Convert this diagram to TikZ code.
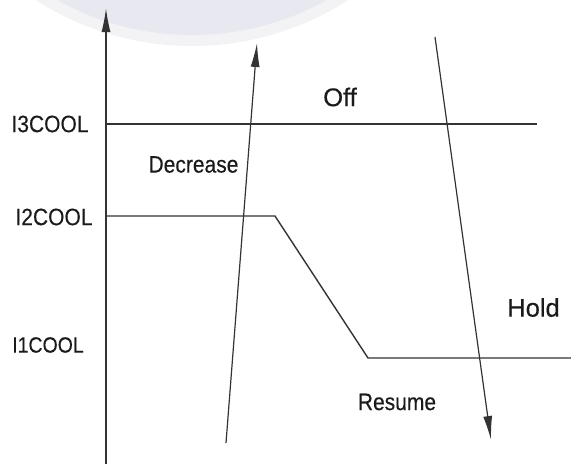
\documentclass[tikz,border=0pt]{standalone}
\usepackage{fontspec}
\setmainfont[FakeBold=0.3]{Liberation Sans}
\usetikzlibrary{arrows.meta}
\definecolor{wmout}{HTML}{F3F3F5}
\definecolor{wmin}{HTML}{E8E8F0}
\definecolor{ink}{HTML}{333333}
\definecolor{txt}{HTML}{1A1A1A}
\newcommand\tallt[1]{\scalebox{1}[1.13]{#1}}
\begin{document}
\begin{tikzpicture}[x=1pt,y=-1pt,
  line/.style={draw=ink, line width=1.4pt},
  lbl/.style={text=txt, inner sep=0pt, font=\fontsize{21}{24}\selectfont},
  big/.style={lbl, font=\fontsize{25.5}{30}\selectfont},
  tip/.style={-{Latex[length=24pt,width=9pt]}}]
\useasboundingbox (0,0) rectangle (571,464);
\clip (0,0) rectangle (571,464);
% faint watermark arc
\fill[wmout] (192,-242) circle (288);
\fill[wmin] (192,-242) circle (277);
% coordinates
\coordinate (axB) at (106,464);
\coordinate (axT) at (106,8);
\coordinate (i3a) at (106,124);
\coordinate (i3b) at (537,124);
\coordinate (i2a) at (106,216);
\coordinate (k1) at (275,216);
\coordinate (k2) at (368,358);
\coordinate (i1e) at (571,358);
\coordinate (uS) at (226,443);
\coordinate (uT) at (257,43);
\coordinate (dS) at (435,37);
\coordinate (dT) at (491,440);
% axis
\draw[line, tip] (axB) -- (axT);
% levels
\draw[line] (i3a) -- (i3b);
\draw[line] (i2a) -- (k1) -- (k2) -- (i1e);
% arrows
\draw[line, line width=1.2pt, tip] (uS) -- (uT);
\draw[line, line width=1.2pt, tip] (dS) -- (dT);
% labels
\node[lbl] (l3) at (50,124) {\tallt{I3COOL}};
\node[lbl] (l2) at (54,217) {\tallt{I2COOL}};
\node[lbl, font=\fontsize{19.5}{24}\selectfont] (l1) at (48,345) {\tallt{I1COOL}};
\node[lbl] (dec) at (193.5,164.5) {\tallt{Decrease}};
\node[big] (off) at (340,97) {Off};
\node[big] (hold) at (533.5,307.5) {Hold};
\node[lbl] (res) at (397,402) {\tallt{Resume}};
\end{tikzpicture}
\end{document}
